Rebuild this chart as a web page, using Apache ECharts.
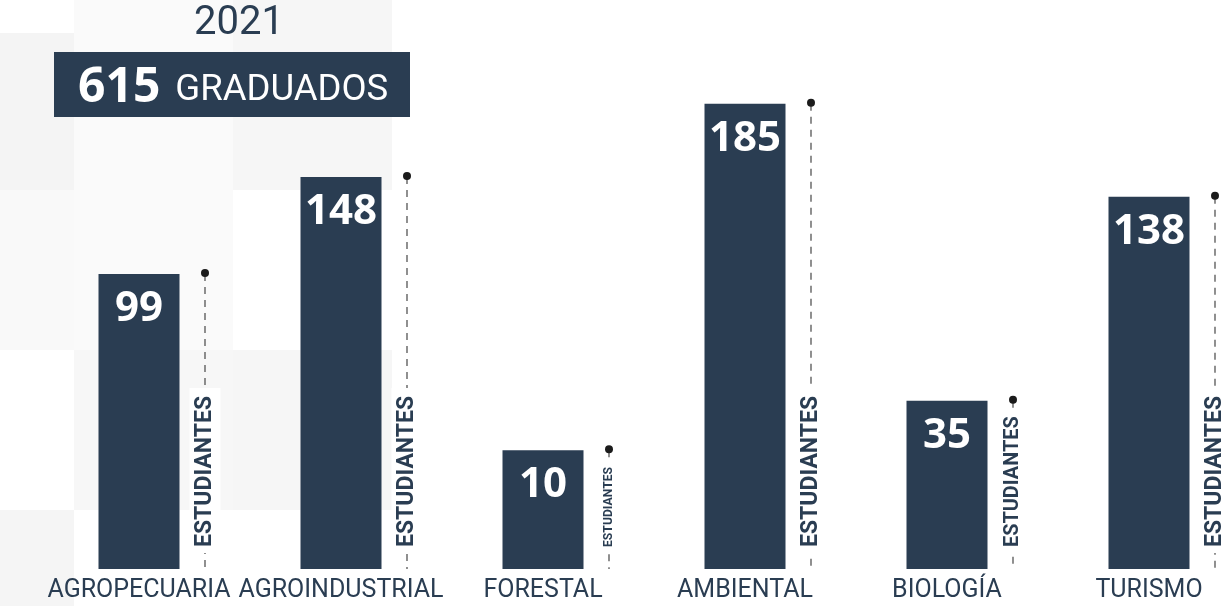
<!DOCTYPE html>
<html>
<head>
<meta charset="utf-8">
<script src="https://cdn.jsdelivr.net/npm/echarts@6/dist/echarts.min.js"></script>
<style>
  html, body { margin: 0; padding: 0; background: #fff; }
  #chart { width: 1223px; height: 606px; }
</style>
</head>
<body>
<div id="chart"></div>
<script>
// datos 2021
const year = '2021'
const totalGraduados = 615
const carreras = ['AGROPECUARIA', 'AGROINDUSTRIAL', 'FORESTAL', 'AMBIENTAL', 'BIOLOGÍA', 'TURISMO']
const estudiantes = [99, 148, 10, 185, 35, 138]
const unidad = 'ESTUDIANTES'

const Y_MIN = -50
const Y_MAX = 200
const navy = '#2a3d52'

const chart = echarts.init(document.getElementById('chart'))

// bloques grises del fondo (decoracion)
const fondo = [
    [0, 33, 74, 157, '#f4f4f4'],
    [74, 0, 159, 350, '#fafafa'],
    [233, 0, 159, 190, '#f6f6f6'],
    [0, 190, 74, 160, '#f9f9f9'],
    [74, 350, 159, 160, '#f7f7f7'],
    [233, 350, 159, 160, '#f6f6f6'],
    [0, 510, 74, 96, '#f5f5f5']
].map(r => ({
    type: 'rect', z: -10, silent: true,
    shape: {x: r[0], y: r[1], width: r[2], height: r[3]},
    style: {fill: r[4]}
}))

const option = {
    backgroundColor: '#fff',
    animation: false,
    grid: {
        left: 38,
        right: -27,
        top: 74,
        bottom: 37,
        outerBoundsMode: 'none'
    },
    xAxis: {
        type: 'category',
        data: carreras,
        axisLine: {show: false},
        axisTick: {show: false},
        axisLabel: {
            interval: 0,
            margin: 9,
            color: navy,
            fontSize: 25,
            fontFamily: 'Roboto'
        }
    },
    yAxis: {
        type: 'value',
        min: Y_MIN,
        max: Y_MAX,
        show: false,
        splitLine: {show: false}
    },
    graphic: [
        ...fondo,
        {
            type: 'text',
            style: {
                x: 239, y: 24, text: year, align: 'center', verticalAlign: 'middle',
                fill: navy, font: '40px Roboto'
            }
        },
        {
            type: 'rect',
            shape: {x: 54, y: 52, width: 356, height: 65},
            style: {fill: navy}
        },
        {
            type: 'text',
            style: {
                x: 78, y: 88, verticalAlign: 'middle',
                text: '{n|' + totalGraduados + '}{t|GRADUADOS}',
                rich: {
                    n: {fontSize: 48, fontWeight: 'bold', fontFamily: 'Open Sans', fill: '#fff', color: '#fff'},
                    t: {fontSize: 36.5, fontFamily: 'Roboto', fill: '#fff', color: '#fff', padding: [5, 0, 0, 15]}
                }
            }
        }
    ],
    series: [{
        type: 'custom',
        encode: {x: 0, y: 1},
        data: estudiantes.map((v, i) => [i, v]),
        renderItem: (params, api) => {
            const idx = api.value(0)
            const v = api.value(1)
            const base = api.coord([idx, Y_MIN])
            const top = api.coord([idx, v])
            const bw = 81
            const lx = top[0] + 66
            const avail = base[1] - top[1]
            // texto vertical mas chico si la barra es corta
            const fs = Math.min(23, (avail - 40) / 6.45)
            return {
                type: 'group',
                children: [
                    {
                        type: 'rect',
                        shape: {x: top[0] - bw / 2, y: top[1], width: bw, height: base[1] - top[1]},
                        style: {fill: navy}
                    },
                    {
                        type: 'text',
                        style: {
                            x: top[0], y: top[1] + 35, text: String(v),
                            align: 'center', verticalAlign: 'middle',
                            fill: '#fff', font: 'bold 42px "Open Sans"'
                        }
                    },
                    {
                        type: 'line',
                        shape: {x1: lx, y1: top[1], x2: lx, y2: base[1]},
                        style: {stroke: '#555', lineWidth: 1.3, lineDash: [7, 6]}
                    },
                    {
                        type: 'text',
                        x: lx, y: base[1] - 16,
                        rotation: Math.PI / 2,
                        style: {
                            x: 0, y: 0, text: unidad,
                            align: 'left', verticalAlign: 'middle',
                            fill: navy, font: 'bold ' + fs.toFixed(1) + 'px Roboto',
                            backgroundColor: '#fff',
                            padding: [4, 8, 4, 6]
                        }
                    },
                    {
                        type: 'circle',
                        shape: {cx: lx, cy: top[1] - 1, r: 4},
                        style: {fill: '#1b1b1b'}
                    }
                ]
            }
        }
    }]
}

chart.setOption(option)
</script>
</body>
</html>
